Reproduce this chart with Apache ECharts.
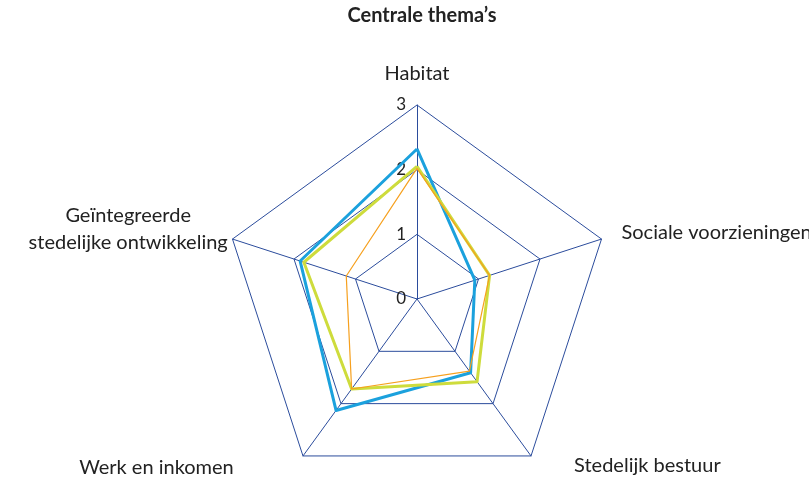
<!DOCTYPE html>
<html>
<head>
<meta charset="utf-8">
<script src="https://cdn.jsdelivr.net/npm/echarts@6/dist/echarts.min.js"></script>
<style>html,body{margin:0;padding:0;background:#fff}#c{width:809px;height:480px}</style>
</head>
<body>
<div id="c"></div>
<script>
// Reference order (clockwise from top)
var categories = ['Habitat', 'Sociale voorzieningen', 'Stedelijk bestuur', 'Werk en inkomen', 'Ge\u00efntegreerde\nstedelijke ontwikkeling'];
var seriesBlue = [2.32, 0.94, 1.41, 2.13, 1.90];
var seriesYellow = [2.05, 1.18, 1.58, 1.72, 1.84];
var seriesOrange = [2.02, 1.18, 1.38, 1.72, 1.15];
var tickLabels = ['0', '1', '2', '3'];
var axisMax = 3;

// ECharts places indicators counter-clockwise; map reference order to that
var order = [0, 4, 3, 2, 1];
var nameLayout = {
  0: {gap: 21, pad: [0, 0, 0, 0]},
  1: {gap: 21, pad: [0, 0, 0, 0]},
  2: {gap: 12, pad: [0, 0, 0, 36]},
  3: {gap: 14, pad: [0, 61, 0, 0]},
  4: {gap: 5, pad: [0, 0, 16, 0]}
};
var indicator = order.map(function (i, k) {
  return {name: categories[i], min: 0, max: axisMax, nameGap: nameLayout[i].gap,
    nameTextStyle: {padding: nameLayout[i].pad},
    axisLabel: {show: k === 0}};
});
function pick(arr) { return order.map(function (i) { return arr[i]; }); }

var chart = echarts.init(document.getElementById('c'), null, {renderer: 'canvas'});
var axisColor = '#2b4c9c';
chart.setOption({
  animation: false,
  title: {
    text: 'Centrale thema\u2019s', left: 417, textAlign: 'center', top: 1,
    textStyle: {fontFamily: 'Lato', fontSize: 20, fontWeight: 'bold', color: '#222'}
  },
  radar: {
    center: [417, 299],
    radius: 194,
    startAngle: 90,
    shape: 'polygon',
    splitNumber: 3,
    indicator: indicator,
    axisName: {
      color: '#222', fontFamily: 'Lato', fontSize: 20,
      formatter: function (name) {
        if (name.indexOf('\n') >= 0) {
          return name.split('\n').map(function (s) { return '{c|' + s + '}'; }).join('\n');
        }
        return name;
      },
      rich: {c: {align: 'center', fontFamily: 'Lato', fontSize: 20, color: '#222', lineHeight: 27}}
    },
    axisLine: {lineStyle: {color: axisColor, width: 1}},
    splitLine: {lineStyle: {color: axisColor, width: 1}},
    splitArea: {show: false},
    axisTick: {show: false},
    axisLabel: {
      show: false, color: '#222', fontFamily: 'Lato', fontSize: 17, margin: 11,
      formatter: function (v) { var idx = Math.round(v); return tickLabels[idx] != null ? tickLabels[idx] : ''; }
    }
  },
  series: [{
    type: 'radar',
    symbol: 'none',
    data: [
      {value: pick(seriesBlue), name: 'blue', lineStyle: {color: '#1ba1dd', width: 3}},
      {value: pick(seriesYellow), name: 'yellow', lineStyle: {color: '#cedc3c', width: 3}},
      {value: pick(seriesOrange), name: 'orange', lineStyle: {color: '#f6a01e', width: 1.2}}
    ]
  }]
});
</script>
</body>
</html>
